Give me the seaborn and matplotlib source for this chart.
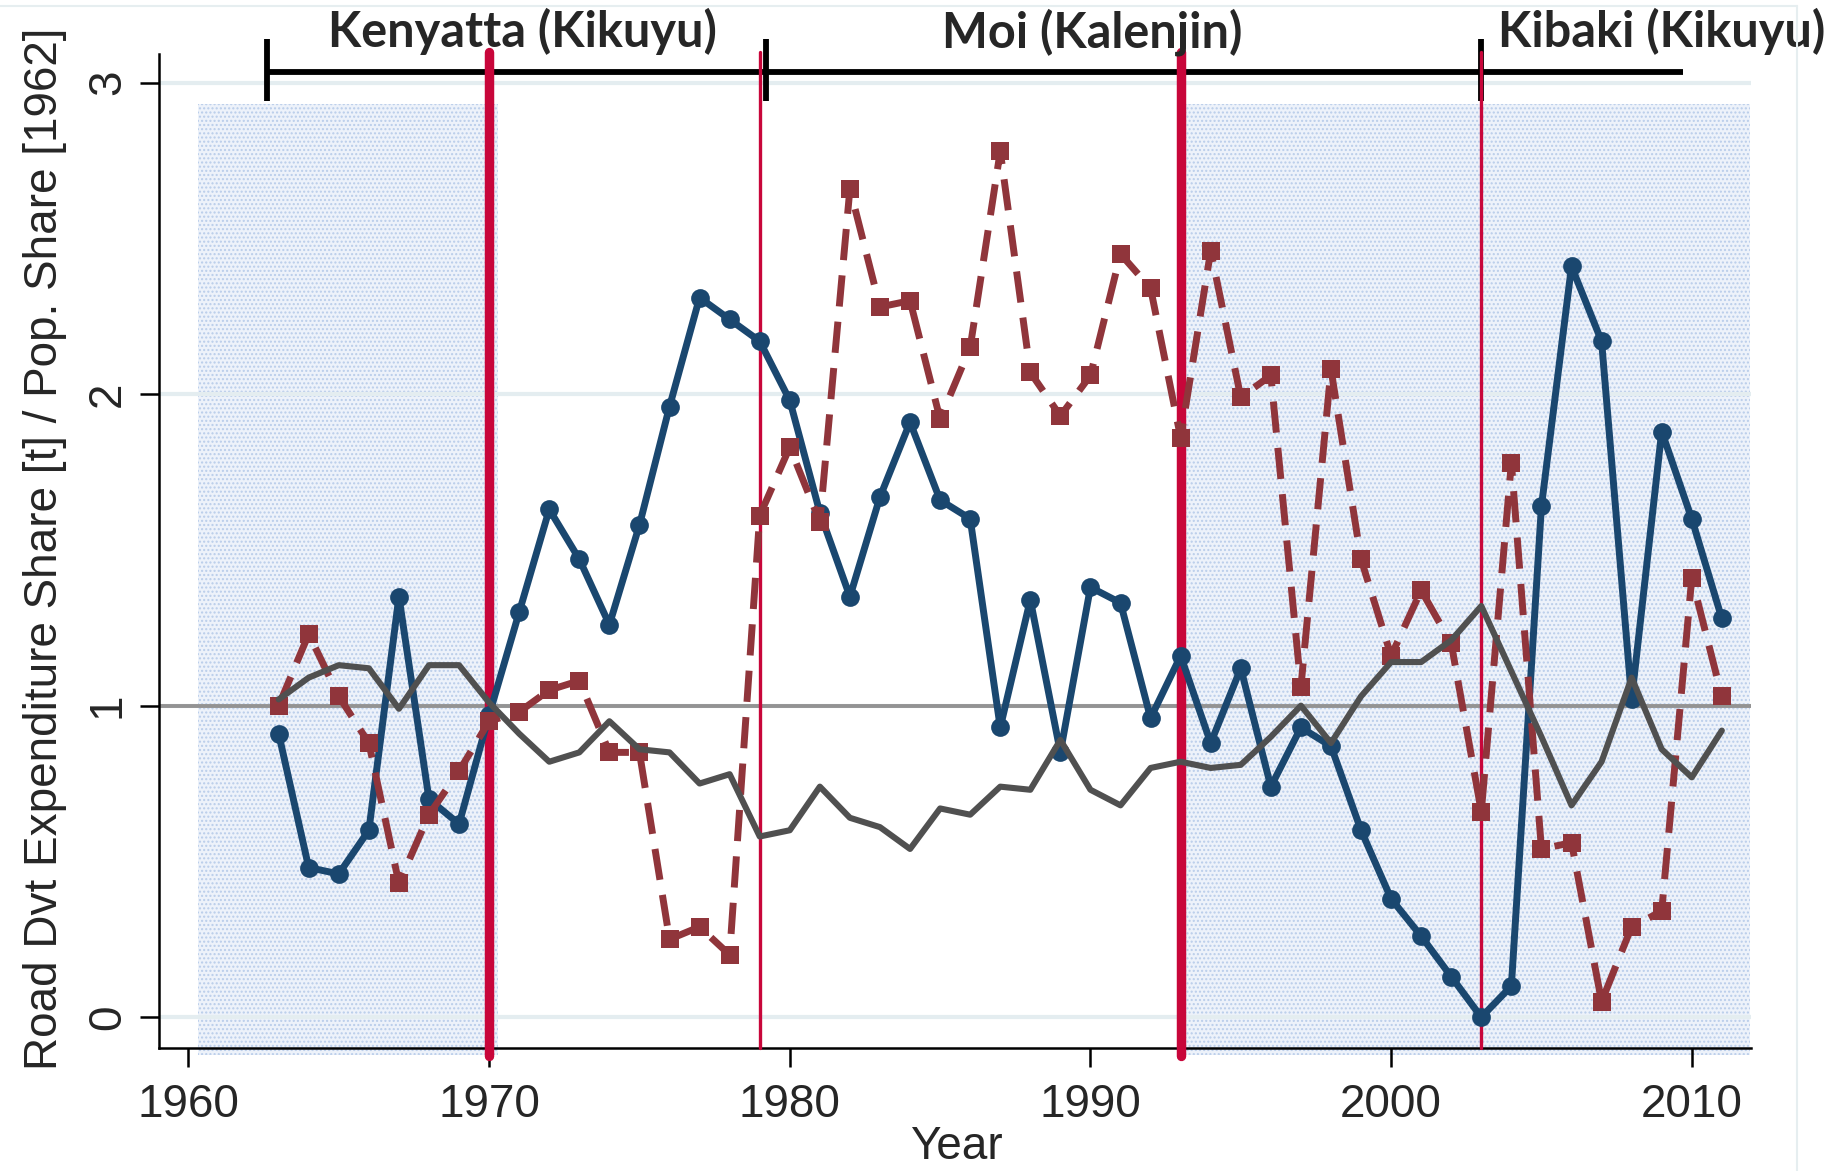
import pandas as pd
import seaborn as sns
import matplotlib.pyplot as plt
from matplotlib.lines import Line2D

# data
years = list(range(1963, 2012))
kikuyu = [0.91, 0.48, 0.46, 0.60, 1.35, 0.70, 0.62, 0.97, 1.30, 1.63,
          1.47, 1.26, 1.58, 1.96, 2.31, 2.24, 2.17, 1.98, 1.62, 1.35,
          1.67, 1.91, 1.66, 1.60, 0.93, 1.34, 0.85, 1.38, 1.33, 0.96,
          1.16, 0.88, 1.12, 0.74, 0.93, 0.87, 0.60, 0.38, 0.26, 0.13,
          0.00, 0.10, 1.64, 2.41, 2.17, 1.02, 1.88, 1.60, 1.28]
kalenjin = [1.00, 1.23, 1.03, 0.88, 0.43, 0.65, 0.79, 0.95, 0.98, 1.05,
            1.08, 0.85, 0.85, 0.25, 0.29, 0.20, 1.61, 1.83, 1.59, 2.66,
            2.28, 2.30, 1.92, 2.15, 2.78, 2.07, 1.93, 2.06, 2.45, 2.34,
            1.86, 2.46, 1.99, 2.06, 1.06, 2.08, 1.47, 1.16, 1.37, 1.20,
            0.66, 1.78, 0.54, 0.56, 0.05, 0.29, 0.34, 1.41, 1.03]
others = [1.02, 1.09, 1.13, 1.12, 0.99, 1.13, 1.13, 1.01, 0.91, 0.82,
          0.85, 0.95, 0.86, 0.85, 0.75, 0.78, 0.58, 0.60, 0.74, 0.64,
          0.61, 0.54, 0.67, 0.65, 0.74, 0.73, 0.89, 0.73, 0.68, 0.80,
          0.82, 0.80, 0.81, 0.90, 1.00, 0.88, 1.03, 1.14, 1.14, 1.21,
          1.32, 1.11, 0.90, 0.68, 0.82, 1.09, 0.86, 0.77, 0.92]

era_names = ['Kenyatta (Kikuyu)', 'Moi (Kalenjin)', 'Kibaki (Kikuyu)']
era_starts = [1962.6, 1979.2, 2003.0]
era_end = 2009.7
era_label_x = [1971.1, 1990.05, 2009.0]

major_breaks = [1970, 1993]
minor_breaks = [1979, 2003]
shaded_spans = [(1960.33, 1970.3), (1993.0, 2011.95)]

df = pd.DataFrame({'Year': years, 'kikuyu': kikuyu,
                   'kalenjin': kalenjin, 'others': others})

sns.set_style('white')
plt.rcParams['font.family'] = ['Liberation Sans', 'DejaVu Sans']

W, H = 1845, 1171
fig = plt.figure(figsize=(W / 100, H / 100), dpi=100)
ax = fig.add_axes([159 / W, 1 - 1048 / H, 1592 / W, 994 / H])

# shaded periods (stippled in the original)
for a, b in shaded_spans:
    ax.fill_between([a, b], -0.12, 2.93, facecolor='#edf2fa', edgecolor='#b9cdea',
                    hatch='....', linewidth=0, zorder=0, clip_on=False)

ax.set_axisbelow(True)
ax.yaxis.grid(True, color='#e4edf0', linewidth=3)
ax.axhline(1, color='#939393', linewidth=2.8, zorder=1.5)

# era timeline on top
ax.plot([era_starts[0], era_end], [3.034, 3.034], color='k', linewidth=4.2,
        solid_capstyle='butt', clip_on=False, zorder=2)
for s in era_starts:
    ax.plot([s, s], [2.94, 3.14], color='k', linewidth=4.2, solid_capstyle='butt',
            clip_on=False, zorder=2)
for name, xl in zip(era_names, era_label_x):
    ax.text(xl, 3.113, name, ha='center', va='baseline', fontsize=35,
            fontweight='bold', family=['Lato', 'DejaVu Sans'], clip_on=False, zorder=6)

# regime change lines
for x in major_breaks:
    ax.plot([x, x], [-0.125, 3.10], color='#c8063a', linewidth=6.8,
            solid_capstyle='round', clip_on=False, zorder=3)
for x in minor_breaks:
    ax.plot([x, x], [-0.099, 3.097], color='#c8063a', linewidth=2.4,
            clip_on=False, zorder=3)

sns.lineplot(data=df, x='Year', y='kikuyu', ax=ax, color='#1a476f', linewidth=5,
             marker='o', markersize=13.5, markeredgewidth=0, errorbar=None, zorder=4)
sns.lineplot(data=df, x='Year', y='kalenjin', ax=ax, color='#90353b', linewidth=5,
             linestyle=(0, (4.5, 2.2)), marker='s', markersize=13, markeredgewidth=0,
             errorbar=None, zorder=5)
sns.lineplot(data=df, x='Year', y='others', ax=ax, color='#505050', linewidth=4.4,
             errorbar=None, zorder=5.5)

ax.set_xlim(1959.02, 2011.97)
ax.set_ylim(-0.099, 3.092)
ax.set_xticks([1960, 1970, 1980, 1990, 2000, 2010])
ax.set_yticks([0, 1, 2, 3])
ax.set_xlabel('')
ax.set_ylabel('')

sns.despine(ax=ax)
for side in ['left', 'bottom']:
    ax.spines[side].set_color('k')
    ax.spines[side].set_linewidth(1.8)

ax.tick_params(axis='both', direction='out', length=14, width=1.8, color='k',
               labelsize=33, bottom=True, left=True)
ax.tick_params(axis='x', pad=11.5)
ax.tick_params(axis='y', pad=7, labelrotation=90)
for lab in ax.get_yticklabels():
    lab.set_va('center')
    lab.set_ha('right')

fig.text(45 / W, 1 - 548.5 / H, 'Road Dvt Expenditure Share [t] / Pop. Share [1962]',
         rotation=90, ha='center', va='center', fontsize=33)
fig.text(956 / W, 1 - 1159 / H, 'Year', ha='center', va='baseline', fontsize=33)

# faint outer frame
fig.add_artist(Line2D([0, 1797 / W], [1 - 6 / H, 1 - 6 / H], color='#e6eef0', linewidth=1.5))
fig.add_artist(Line2D([1797 / W, 1797 / W], [0, 1 - 6 / H], color='#e6eef0', linewidth=1.5))

fig.savefig('out.png', dpi=100)
